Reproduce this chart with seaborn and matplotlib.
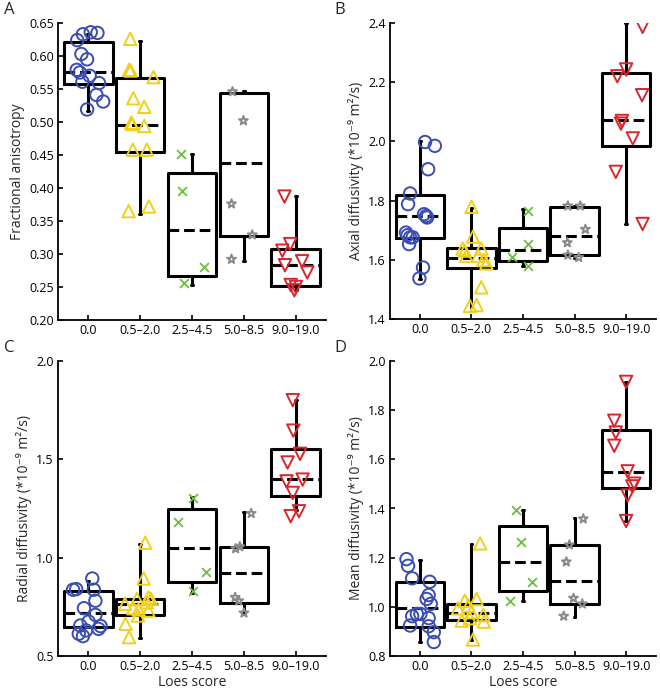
import numpy as np
import pandas as pd
import matplotlib
matplotlib.use("Agg")
import matplotlib.pyplot as plt
import seaborn as sns

groups = ["0.0", "0.5–2.0", "2.5–4.5", "5.0–8.5", "9.0–19.0"]
colors = ["#3a4db3", "#f2cf1d", "#6cbf3c", "#8a8a8a", "#d9262c"]
markers = ["o", "^", "x", "*", "v"]

# ---- A: fractional anisotropy (values, horizontal offsets)
fa_vals = [
    [0.633, 0.636, 0.635, 0.624, 0.603, 0.595, 0.579, 0.575, 0.570, 0.561, 0.559, 0.541, 0.531, 0.519],
    [0.626, 0.579, 0.578, 0.568, 0.536, 0.523, 0.499, 0.497, 0.494, 0.458, 0.458, 0.365, 0.372],
    [0.452, 0.395, 0.281, 0.256],
    [0.546, 0.502, 0.376, 0.329, 0.292],
    [0.387, 0.315, 0.305, 0.283, 0.289, 0.272, 0.253, 0.250, 0.245],
]
fa_offs = [
    [-0.10, 0.05, 0.18, -0.21, -0.13, -0.02, -0.22, -0.16, 0.03, -0.11, 0.21, 0.16, 0.29, -0.02],
    [-0.19, -0.21, -0.18, 0.26, -0.13, 0.08, -0.17, -0.15, 0.08, -0.14, 0.13, -0.22, 0.17],
    [-0.22, -0.20, 0.24, -0.15],
    [-0.22, -0.01, -0.24, 0.16, -0.24],
    [-0.22, -0.11, -0.26, -0.21, 0.12, 0.22, -0.10, 0.00, -0.03],
]
# box stats: q1, median, q3, whisker low, whisker high
fa_box = [
    (0.558, 0.575, 0.621, 0.517, 0.633),
    (0.455, 0.495, 0.567, 0.360, 0.622),
    (0.267, 0.337, 0.422, 0.253, 0.452),
    (0.327, 0.438, 0.544, 0.290, 0.547),
    (0.252, 0.283, 0.307, 0.245, 0.388),
]

# ---- B: axial diffusivity
ad_vals = [
    [1.998, 1.985, 1.906, 1.824, 1.788, 1.754, 1.748, 1.743, 1.692, 1.683, 1.676, 1.676, 1.653, 1.574, 1.537],
    [1.779, 1.678, 1.638, 1.638, 1.631, 1.613, 1.613, 1.599, 1.588, 1.507, 1.444, 1.447],
    [1.766, 1.652, 1.610, 1.580],
    [1.782, 1.782, 1.703, 1.658, 1.616, 1.608],
    [2.387, 2.220, 2.243, 2.156, 2.069, 2.060, 2.010, 1.897, 1.721],
]
ad_offs = [
    [0.10, 0.29, 0.16, -0.19, -0.23, 0.08, 0.12, 0.14, -0.27, -0.24, -0.19, -0.14, -0.21, 0.06, -0.01],
    [0.00, 0.03, -0.17, 0.19, -0.13, -0.10, 0.13, 0.23, 0.29, 0.19, -0.03, 0.10],
    [0.10, 0.10, -0.22, 0.10],
    [-0.13, 0.11, 0.21, -0.14, -0.13, 0.08],
    [0.32, -0.17, 0.00, 0.31, -0.08, -0.10, 0.13, -0.20, 0.32],
]
ad_box = [
    (1.675, 1.747, 1.820, 1.535, 2.000),
    (1.572, 1.607, 1.640, 1.440, 1.775),
    (1.595, 1.632, 1.707, 1.580, 1.770),
    (1.615, 1.680, 1.780, 1.605, 1.782),
    (1.985, 2.072, 2.232, 1.720, 2.400),
]

# ---- C: radial diffusivity
rd_vals = [
    [0.894, 0.840, 0.837, 0.837, 0.781, 0.743, 0.709, 0.675, 0.655, 0.652, 0.638, 0.613, 0.601, 0.630],
    [1.076, 0.894, 0.798, 0.790, 0.790, 0.773, 0.765, 0.743, 0.736, 0.731, 0.706, 0.664, 0.596],
    [1.304, 1.181, 0.925, 0.832],
    [1.225, 1.046, 1.056, 0.798, 0.781, 0.719],
    [1.801, 1.646, 1.528, 1.484, 1.397, 1.388, 1.329, 1.236, 1.211],
]
rd_offs = [
    [0.08, -0.23, -0.29, 0.11, 0.14, -0.08, 0.14, 0.01, -0.15, 0.24, 0.20, -0.18, -0.10, -0.04],
    [0.10, 0.07, 0.16, -0.06, 0.21, 0.13, -0.29, -0.13, -0.03, 0.16, -0.04, -0.28, -0.21],
    [0.01, -0.27, 0.27, 0.01],
    [0.14, -0.16, -0.08, -0.17, -0.10, 0.00],
    [-0.06, -0.05, 0.08, -0.16, 0.13, -0.18, -0.06, 0.06, -0.10],
]
rd_box = [
    (0.645, 0.720, 0.830, 0.645, 0.880),
    (0.710, 0.765, 0.790, 0.590, 1.070),
    (0.875, 1.050, 1.245, 0.820, 1.310),
    (0.770, 0.920, 1.055, 0.720, 1.230),
    (1.315, 1.400, 1.555, 1.240, 1.800),
]

# ---- D: mean diffusivity
md_vals = [
    [1.194, 1.167, 1.116, 1.102, 1.048, 1.032, 1.012, 0.971, 0.962, 0.971, 0.954, 0.924, 0.921, 0.897, 0.857],
    [1.258, 1.025, 1.032, 0.994, 1.005, 0.978, 0.967, 0.944, 0.954, 0.940, 0.867],
    [1.393, 1.264, 1.103, 1.025],
    [1.358, 1.252, 1.183, 1.035, 1.012, 0.962],
    [1.915, 1.757, 1.709, 1.655, 1.551, 1.501, 1.490, 1.453, 1.349],
]
md_offs = [
    [-0.26, -0.23, -0.15, 0.19, 0.17, 0.13, 0.21, -0.06, -0.15, 0.01, 0.17, -0.19, 0.17, 0.27, 0.27],
    [0.17, -0.13, 0.10, -0.26, -0.06, 0.00, 0.23, -0.19, -0.03, 0.24, 0.03],
    [-0.14, -0.03, 0.18, -0.26],
    [0.17, -0.10, -0.16, -0.02, 0.15, -0.21],
    [0.00, -0.23, -0.20, -0.23, 0.03, 0.16, 0.12, 0.03, 0.00],
]
md_box = [
    (0.920, 0.995, 1.100, 0.855, 1.190),
    (0.945, 0.975, 1.010, 0.865, 1.255),
    (1.065, 1.183, 1.330, 1.025, 1.395),
    (1.012, 1.107, 1.250, 0.958, 1.360),
    (1.485, 1.550, 1.720, 1.350, 1.915),
]

sns.set_theme(style="ticks")
plt.rcParams["font.family"] = ["Open Sans", "DejaVu Sans"]

fig = plt.figure(figsize=(6.6, 6.92), dpi=100)
W, H = 660, 692
ax_rects = [(58, 23, 268, 297), (390, 23, 266, 296), (58, 361, 268, 295), (390, 361, 266, 295)]
axes = [fig.add_axes([x / W, 1 - (y + h) / H, w / W, h / H]) for x, y, w, h in ax_rects]

panels = [
    (fa_vals, fa_offs, fa_box, (0.20, 0.65), np.arange(0.20, 0.651, 0.05), "{:.2f}",
     "Fractional anisotropy", False),
    (ad_vals, ad_offs, ad_box, (1.4, 2.4), np.arange(1.4, 2.41, 0.2), "{:.1f}",
     "Axial diffusivity (*10⁻⁹ m²/s)", False),
    (rd_vals, rd_offs, rd_box, (0.5, 2.0), np.arange(0.5, 2.01, 0.5), "{:.1f}",
     "Radial diffusivity (*10⁻⁹ m²/s)", True),
    (md_vals, md_offs, md_box, (0.8, 2.0), np.arange(0.8, 2.01, 0.2), "{:.1f}",
     "Mean diffusivity (*10⁻⁹ m²/s)", True),
]

for ax, (vals, offs, box, ylim, yticks, fmt, ylabel, xlab) in zip(axes, panels):
    stats = []
    for q1, med, q3, lo, hi in box:
        stats.append(dict(q1=q1, med=med, q3=q3, whislo=lo, whishi=hi, fliers=[]))
    ax.bxp(stats, positions=range(5), widths=0.94, showfliers=False,
           boxprops=dict(color="black", linewidth=2.2),
           whiskerprops=dict(color="black", linewidth=2.2),
           capprops=dict(color="black", linewidth=2.2),
           capwidths=0.03,
           medianprops=dict(color="black", linewidth=2.2, linestyle=(0, (3.5, 1.6))),
           zorder=2)
    for i in range(5):
        df = pd.DataFrame({"x": np.array(offs[i]) + i, "y": vals[i]})
        if markers[i] == "x":
            sns.scatterplot(data=df, x="x", y="y", marker="x", color=colors[i],
                            s=40, linewidth=1.3, ax=ax, zorder=3)
        else:
            size = 45 if markers[i] == "*" else 80
            sns.scatterplot(data=df, x="x", y="y", marker=markers[i], color=colors[i],
                            facecolor="none", edgecolor=colors[i], s=size,
                            linewidth=1.4, ax=ax, zorder=3)
    ax.set_xlim(-0.58, 4.58)
    ax.set_ylim(*ylim)
    ax.set_yticks(yticks)
    ax.set_yticklabels([fmt.format(t) for t in yticks], fontsize=9)
    ax.set_xticks(range(5))
    ax.set_xticklabels(groups, fontsize=9)
    ax.set_ylabel(ylabel, fontsize=10, labelpad=3)
    ax.set_xlabel("Loes score" if xlab else "", fontsize=10, labelpad=1)
    ax.tick_params(direction="in", length=3.5, width=1.2, colors="black", pad=3)
    for s in ["top", "right"]:
        ax.spines[s].set_visible(False)
    for s in ["left", "bottom"]:
        ax.spines[s].set_linewidth(1.3)
        ax.spines[s].set_color("black")
    ax.set_facecolor("none")

for letter, (x, y) in zip("ABCD", [(4, 2), (334, 2), (4, 340), (334, 340)]):
    fig.text(x / W, 1 - y / H, letter, fontsize=12, va="top", ha="left")

fig.savefig("out.png", dpi=100)
